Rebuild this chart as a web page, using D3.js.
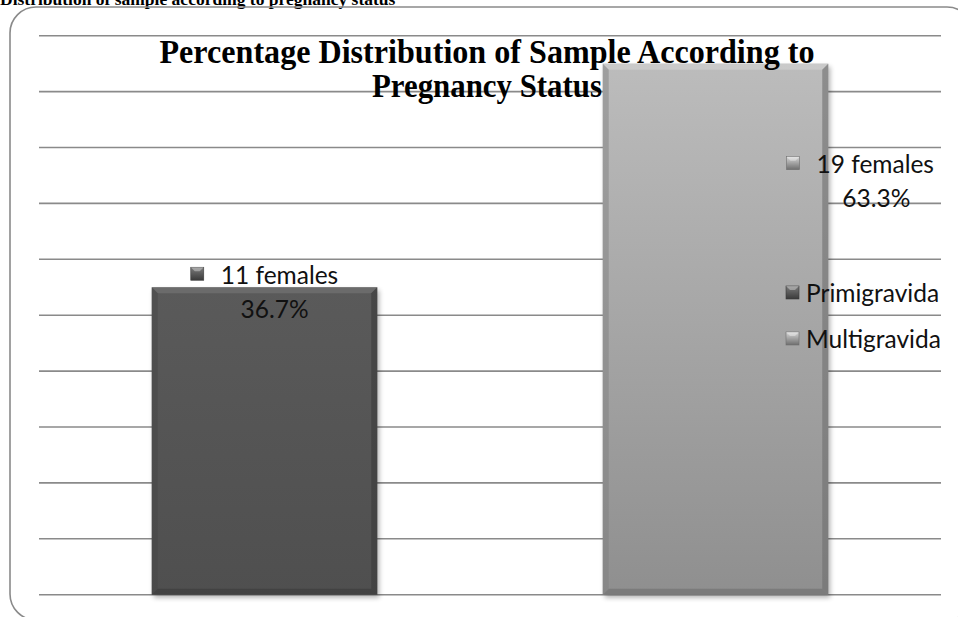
<!DOCTYPE html>
<html>
<head>
<meta charset="utf-8">
<script src="https://cdn.jsdelivr.net/npm/d3@7/dist/d3.min.js"></script>
<style>
  html, body { margin: 0; padding: 0; background: #fff; }
  svg { display: block; }
</style>
</head>
<body>
<svg id="chart" width="958" height="617"></svg>
<script>
// ---- data ----
const categories = ["Primigravida", "Multigravida"];
const counts = [11, 19];
const percentLabels = ["36.7%", "63.3%"];
const countLabels = ["11 females", "19 females"];
const yDomain = [0, 20];
const headingText = "Distribution of sample according to pregnancy status";
const titleLines = ["Percentage Distribution of Sample According to", "Pregnancy Status"];

// ---- layout ----
const plot = { left: 39, right: 941, top: 35.7, bottom: 594.7 };
const svg = d3.select("#chart");
const defs = svg.append("defs");

const x = d3.scaleBand().domain(categories).range([plot.left, plot.right]).paddingInner(0.5).paddingOuter(0.25);
const y = d3.scaleLinear().domain(yDomain).range([plot.bottom, plot.top]);

const fills = [
  { top: "#5a5a5a", bottom: "#4f4f4f", hi: "#7a7a7a", lo: "#3a3a3a", side: "#444" },
  { top: "#bcbcbc", bottom: "#8f8f8f", hi: "#d6d6d6", lo: "#6e6e6e", side: "#7c7c7c" }
];
fills.forEach((f, i) => {
  const g = defs.append("linearGradient").attr("id", "bg" + i).attr("x1", 0).attr("y1", 0).attr("x2", 0).attr("y2", 1);
  g.append("stop").attr("offset", "0%").attr("stop-color", f.top);
  g.append("stop").attr("offset", "100%").attr("stop-color", f.bottom);
  const m = defs.append("linearGradient").attr("id", "mk" + i).attr("x1", 0).attr("y1", 0).attr("x2", 0).attr("y2", 1);
  m.append("stop").attr("offset", "0%").attr("stop-color", f.hi);
  m.append("stop").attr("offset", "100%").attr("stop-color", f.lo);
});
const sh = defs.append("filter").attr("id", "shadow").attr("x", "-10%").attr("y", "-10%").attr("width", "130%").attr("height", "130%");
sh.append("feGaussianBlur").attr("stdDeviation", 2.5);

// heading (cut off at top)
svg.append("text").attr("x", 0).attr("y", 5)
  .attr("font-family", "Liberation Serif").attr("font-weight", "bold").attr("font-size", 17.5)
  .attr("fill", "#000").text(headingText);

// rounded border
svg.append("rect").attr("x", 10).attr("y", 7).attr("width", 963).attr("height", 613).attr("rx", 26)
  .attr("fill", "none").attr("stroke", "#8a8a8a").attr("stroke-width", 1.6);

// gridlines
svg.append("g").selectAll("line").data(y.ticks(10)).join("line")
  .attr("x1", plot.left).attr("x2", plot.right)
  .attr("y1", d => y(d)).attr("y2", d => y(d))
  .attr("stroke", "#8a8a8a").attr("stroke-width", 1.6);

// bars with bevel
const bw = x.bandwidth();
const b = 6;
categories.forEach((c, i) => {
  const x0 = x(c), x1 = x0 + bw, y0 = y(counts[i]), y1 = y(0);
  const f = fills[i];
  const g = svg.append("g");
  g.append("rect").attr("x", x0 + 2).attr("y", y0 + 3).attr("width", bw).attr("height", y1 - y0)
    .attr("fill", "#000").attr("opacity", 0.3).attr("filter", "url(#shadow)");
  g.append("rect").attr("x", x0).attr("y", y0).attr("width", bw).attr("height", y1 - y0).attr("fill", `url(#bg${i})`);
  g.append("path").attr("d", `M${x0},${y0}L${x1},${y0}L${x1 - b},${y0 + b}L${x0 + b},${y0 + b}Z`)
    .attr("fill", f.hi).attr("opacity", 0.55);
  g.append("path").attr("d", `M${x0},${y1}L${x1},${y1}L${x1 - b},${y1 - b}L${x0 + b},${y1 - b}Z`)
    .attr("fill", f.lo).attr("opacity", 0.6);
  g.append("path").attr("d", `M${x0},${y0}L${x0 + b},${y0 + b}L${x0 + b},${y1 - b}L${x0},${y1}Z`)
    .attr("fill", f.side).attr("opacity", 0.45);
  g.append("path").attr("d", `M${x1},${y0}L${x1 - b},${y0 + b}L${x1 - b},${y1 - b}L${x1},${y1}Z`)
    .attr("fill", f.lo).attr("opacity", 0.6);
});

// title
const title = svg.append("text").attr("text-anchor", "middle")
  .attr("font-family", "Liberation Serif").attr("font-weight", "bold").attr("font-size", 33).attr("fill", "#000");
title.append("tspan").attr("x", 487).attr("y", 63).attr("textLength", 655).attr("lengthAdjust", "spacingAndGlyphs").text(titleLines[0]);
title.append("tspan").attr("x", 487).attr("y", 97).attr("textLength", 230).attr("lengthAdjust", "spacingAndGlyphs").text(titleLines[1]);

// markers
function marker(g, mx, my, i) {
  g.append("rect").attr("x", mx).attr("y", my).attr("width", 13).attr("height", 13).attr("fill", `url(#mk${i})`)
    .attr("stroke", fills[i].lo).attr("stroke-width", 0.6);
  g.append("path").attr("d", `M${mx},${my}L${mx + 13},${my}L${mx + 9},${my + 4}L${mx + 4},${my + 4}Z`)
    .attr("fill", "#fff").attr("opacity", 0.35);
}

const font = "Lato, 'Open Sans', sans-serif";
const fs = 24.5;
// data labels
const labelOffsets = [
  { l1x: 0, l1y: -13, l2x: 10, l2y: 21, ref: "center" },
  { l1x: 32, l1y: 0, l2x: 48, l2y: 34, ref: "right" }
];
categories.forEach((c, i) => {
  const o = labelOffsets[i];
  const base = o.ref === "center" ? x(c) + bw / 2 : x(c) + bw;
  const topY = o.ref === "center" ? y(counts[i]) : (y(counts[i]) + 100);
  const g = svg.append("g");
  const t1 = g.append("text").attr("font-family", font).attr("font-size", fs).attr("fill", "#111")
    .attr("dominant-baseline", "central").attr("text-anchor", "middle")
    .attr("x", base + o.l1x + 15).attr("y", topY + o.l1y).text(countLabels[i]);
  const tw = t1.node().getComputedTextLength();
  marker(g, base + o.l1x + 15 - tw / 2 - 30, topY + o.l1y - 7, i);
  g.append("text").attr("font-family", font).attr("font-size", fs).attr("fill", "#111")
    .attr("dominant-baseline", "central").attr("text-anchor", "middle")
    .attr("x", base + o.l2x).attr("y", topY + o.l2y).text(percentLabels[i]);
});

// legend
const legend = svg.append("g");
categories.forEach((c, i) => {
  const ly = 292 + i * 46;
  marker(legend, 786, ly - 6, i);
  legend.append("text").attr("font-family", font).attr("font-size", fs).attr("fill", "#111")
    .attr("dominant-baseline", "central").attr("x", 806).attr("y", ly).text(c);
});
</script>
</body>
</html>
